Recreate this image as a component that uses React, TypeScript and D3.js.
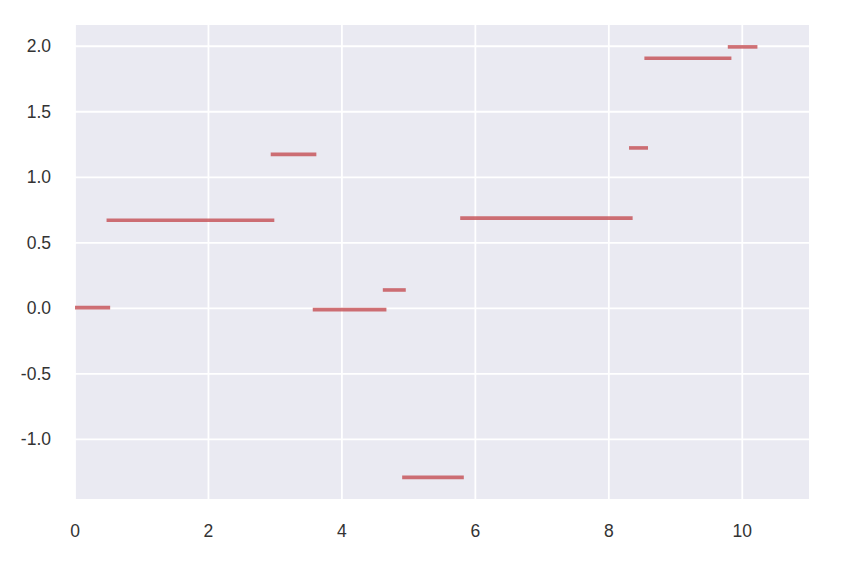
import React from "react";
import * as d3 from "d3";

// Step segments: [start, end, value]
const segStarts = [0, 0.5, 2.96, 3.59, 4.64, 4.93, 5.8, 8.33, 8.56, 9.81];
const segEnds = [0.5, 2.96, 3.59, 4.64, 4.93, 5.8, 8.33, 8.56, 9.81, 10.2];
const segValues = [0.005, 0.672, 1.175, -0.01, 0.14, -1.29, 0.688, 1.224, 1.908, 1.995];

const xTicks = [0, 2, 4, 6, 8, 10];
const yTicks = [-1.0, -0.5, 0.0, 0.5, 1.0, 1.5, 2.0];

const W = 844;
const H = 568;
const left = 75;
const right = 809;
const top = 25;
const bottom = 499;

export default function App() {
  const x = d3.scaleLinear().domain([0, 11]).range([left, right]);
  const y = d3.scaleLinear().domain([-1.455, 2.162]).range([bottom, top]);
  const fmt = (v: number) => d3.format(".1f")(v).replace("\u2212", "-");
  const segs = segStarts.map((s, i) => ({ s, e: segEnds[i], v: segValues[i] }));
  return (
    <svg
      width={W}
      height={H}
      style={{ position: "absolute", left: 0, top: 0, background: "#ffffff" }}
      fontFamily="'Liberation Sans', Arial, sans-serif"
    >
      <defs>
        <clipPath id="plotclip">
          <rect x={left} y={top} width={right - left} height={bottom - top} />
        </clipPath>
      </defs>
      <rect x={left} y={top} width={right - left} height={bottom - top} fill="#EAEAF2" />
      {xTicks.map((t) => (
        <line key={"gx" + t} x1={x(t)} x2={x(t)} y1={top} y2={bottom} stroke="#ffffff" strokeWidth={1.8} />
      ))}
      {yTicks.map((t) => (
        <line key={"gy" + t} x1={left} x2={right} y1={y(t)} y2={y(t)} stroke="#ffffff" strokeWidth={1.8} />
      ))}
      <g clipPath="url(#plotclip)">
        {segs.map((d, i) => (
          <line
            key={"s" + i}
            x1={x(d.s)}
            x2={x(d.e)}
            y1={y(d.v)}
            y2={y(d.v)}
            stroke="#C44E52"
            strokeOpacity={0.8}
            strokeWidth={3.6}
            strokeLinecap="square"
          />
        ))}
      </g>
      {xTicks.map((t) => (
        <text
          key={"tx" + t}
          x={x(t)}
          y={531}
          textAnchor="middle"
          dominantBaseline="central"
          fontSize={17.5}
          fill="#333333"
        >
          {t}
        </text>
      ))}
      {yTicks.map((t) => (
        <text
          key={"ty" + t}
          x={51}
          y={y(t)}
          textAnchor="end"
          dominantBaseline="central"
          fontSize={17.5}
          fill="#333333"
        >
          {fmt(t)}
        </text>
      ))}
    </svg>
  );
}
